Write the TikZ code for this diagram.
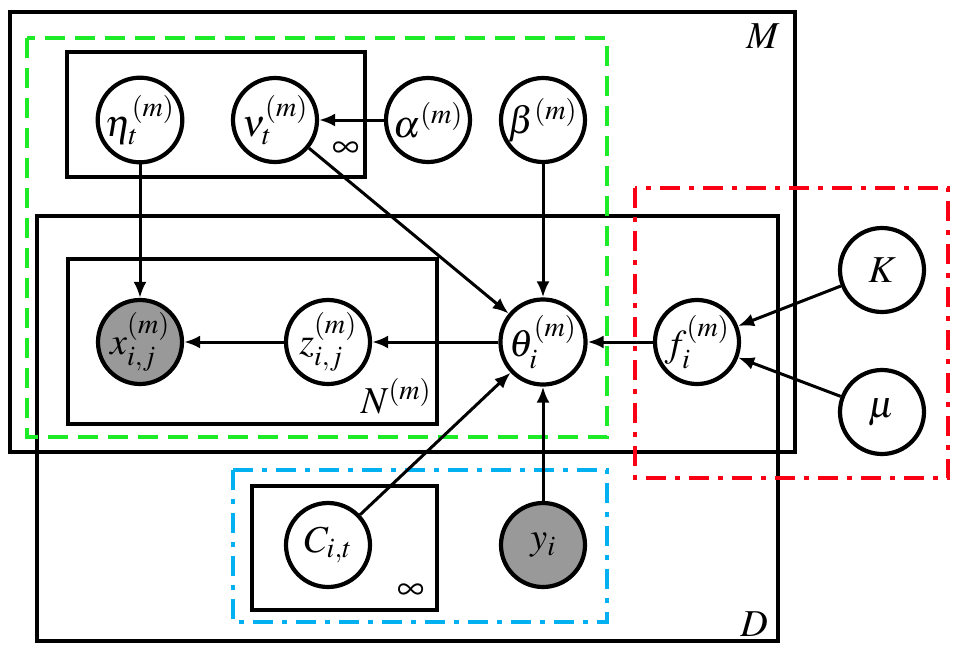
\documentclass[tikz,border=0pt]{standalone}
\usepackage{mathptmx}
\usetikzlibrary{arrows.meta}

\definecolor{plategreen}{RGB}{30,235,40}
\definecolor{platered}{RGB}{250,0,20}
\definecolor{plateblue}{RGB}{0,176,240}

\tikzset{
  var/.style={circle, draw=black, line width=4.2pt, minimum size=84pt, inner sep=0pt,
              font=\fontsize{38}{44}\selectfont},
  obs/.style={var, fill=black!40},
  plate/.style={draw=black, line width=4.2pt},
  edge/.style={line width=3pt, -{Latex[length=16pt,width=13pt]}},
  platelabel/.style={font=\fontsize{38}{44}\selectfont, inner sep=0pt}
}

\begin{document}
\begin{tikzpicture}[x=1pt,y=-1pt]

  \useasboundingbox (0,0) rectangle (958,651);

  % Plates
  \draw[plate] (10,12) rectangle (795,452);
  \node[platelabel] (Mlab) at (763,36) {$M$};
  \draw[plate] (37,216) rectangle (778,641);
  \node[platelabel] (Dlab) at (754,624) {$D$};
  \draw[plate] (67,52) rectangle (365,177);
  \node[platelabel] (inflab) at (346,150) {$\infty$};
  \draw[plate] (68,259) rectangle (437,424);
  \node[platelabel] (Nlab) at (396,396) {$N^{(m)}$};
  \draw[plate] (252,486) rectangle (437,610);
  \node[platelabel] (Cinflab) at (411,592) {$\infty$};

  % Coloured groups
  \draw[plategreen, line width=4pt, dash pattern=on 20pt off 10pt] (27,38) rectangle (607,437);
  \draw[platered, line width=4pt, dash pattern=on 20pt off 9pt on 5pt off 9pt] (635,188) rectangle (948,478);
  \draw[plateblue, line width=4pt, dash pattern=on 20pt off 9pt on 5pt off 9pt] (233,470) rectangle (607,622);

  % Variables
  \node[var] (eta) at (140,120) {$\eta_t^{(m)}$};
  \node[var] (nu) at (275,120) {$\nu_t^{(m)}$};
  \node[var] (alpha) at (428,120) {$\alpha^{(m)}$};
  \node[var] (beta) at (543,120) {$\beta^{(m)}$};
  \node[obs] (x) at (140,342) {$x_{i,j}^{(m)}$};
  \node[var] (z) at (328,342) {$z_{i,j}^{(m)}$};
  \node[var] (theta) at (543,342) {$\theta_i^{(m)}$};
  \node[var] (f) at (697,342) {$f_i^{(m)}$};
  \node[var] (K) at (882,270) {$K$};
  \node[var] (mu) at (882,412) {$\mu$};
  \node[var] (C) at (328,545) {$C_{i,t}$};
  \node[obs] (y) at (543,545) {$y_i$};

  % Dependencies
  \draw[edge] (alpha) -- (nu);
  \draw[edge] (eta) -- (x);
  \draw[edge] (nu) -- (theta);
  \draw[edge] (beta) -- (theta);
  \draw[edge] (theta) -- (z);
  \draw[edge] (z) -- (x);
  \draw[edge] (f) -- (theta);
  \draw[edge] (K) -- (f);
  \draw[edge] (mu) -- (f);
  \draw[edge] (C) -- (theta);
  \draw[edge] (y) -- (theta);

\end{tikzpicture}
\end{document}
